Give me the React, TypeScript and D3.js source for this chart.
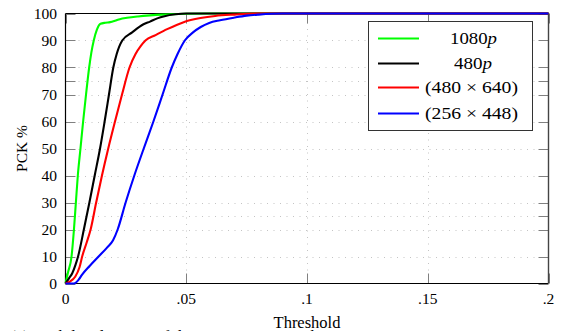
import React from "react";
import * as d3 from "d3";

const W = 561;
const H = 331;

const seriesNames = ["1080p", "480p", "(480 × 640)", "(256 × 448)"];
const seriesColors = ["#00ff00", "#000000", "#ff0000", "#0000ff"];

const green1080: [number, number][] = [
  [0, 0], [0.001, 4], [0.0025, 10], [0.0035, 20], [0.0043, 30], [0.0051, 40], [0.0062, 50],
  [0.0073, 60], [0.0085, 70], [0.0098, 80], [0.0107, 85.5], [0.0117, 90], [0.013, 94],
  [0.0145, 96.2], [0.0165, 96.6], [0.0185, 96.8], [0.0205, 97.3], [0.0225, 97.9],
  [0.0255, 98.4], [0.03, 98.9], [0.035, 99.3], [0.04, 99.6], [0.05, 99.9], [0.06, 100], [0.2, 100],
];
const black480: [number, number][] = [
  [0, 0], [0.0015, 2], [0.0028, 3.8], [0.0041, 6.8], [0.0052, 10], [0.0076, 20], [0.0099, 30],
  [0.0121, 40], [0.0143, 50], [0.0162, 60], [0.018, 70], [0.0198, 80], [0.0212, 85],
  [0.0235, 90], [0.0276, 93], [0.0323, 96], [0.035, 97], [0.038, 98.2], [0.041, 99],
  [0.0455, 99.7], [0.05, 100], [0.2, 100],
];
const red480x640: [number, number][] = [
  [0, 0], [0.002, 0.8], [0.004, 2.5], [0.0058, 6], [0.0069, 10], [0.0087, 15], [0.0104, 20],
  [0.0127, 30], [0.0151, 40], [0.0177, 50], [0.0205, 60], [0.0234, 70], [0.0265, 80],
  [0.029, 85], [0.0312, 88], [0.0331, 90], [0.0373, 92], [0.0421, 94.2], [0.0489, 96.8],
  [0.0559, 98.3], [0.062, 99.1], [0.07, 99.6], [0.08, 100], [0.2, 100],
];
const blue256x448: [number, number][] = [
  [0, 0], [0.0035, 0], [0.0055, 1.5], [0.0068, 3.2], [0.01, 6.5], [0.0137, 10], [0.0172, 13.3],
  [0.0197, 16], [0.0216, 20], [0.0249, 30], [0.0285, 40], [0.0324, 50], [0.0364, 60],
  [0.0402, 70], [0.044, 80], [0.0464, 85], [0.0494, 90], [0.0528, 93], [0.056, 95],
  [0.0595, 96.5], [0.064, 97.5], [0.07, 98.5], [0.075, 99.2], [0.08, 99.6], [0.09, 100], [0.2, 100],
];
const seriesData = [green1080, black480, red480x640, blue256x448];

const xTicks = [0, 0.05, 0.1, 0.15, 0.2];
const xTickLabels = ["0", ".05", ".1", ".15", ".2"];
const yTicks = [0, 10, 20, 25, 30, 40, 50, 60, 70, 75, 80, 90, 100];
const yLabelTicks = [0, 10, 20, 30, 40, 50, 60, 70, 80, 90, 100];

const xLabel = "Threshold";
const yLabel = "PCK %";
const captionLeft = "(a) Each localization of the joints";
const captionRight = "The PCK";

export default function App() {
  const x = d3.scaleLinear().domain([0, 0.2]).range([65.5, 548.5]);
  const y = d3.scaleLinear().domain([0, 100]).range([283.5, 13.5]);
  const line = d3
    .line<[number, number]>()
    .x((d) => x(d[0]))
    .y((d) => y(d[1]))
    .curve(d3.curveMonotoneX);

  const font = '"Liberation Serif", "Times New Roman", Times, serif';
  const [x0, x1] = x.range();
  const [yb, yt] = y.range();
  const tickLen = 10;

  const legendX = 368.5;
  const legendY = 21.5;
  const rowYs = [38.5, 63.5, 87.5, 113.5];
  const labelX = [450, 454, 425, 425];
  const labelLen = [47, 38, 93, 93];

  return (
    <svg
      width={W}
      height={H}
      style={{ position: "absolute", left: 0, top: 0, background: "#fff", fontFamily: font }}
    >
      <rect x={0} y={0} width={W} height={H} fill="#fff" />
      {/* grid */}
      <g stroke="#c4c4c4" strokeWidth={1} strokeDasharray="1 5.5">
        {yTicks
          .filter((t) => t > 0 && t < 100)
          .map((t) => (
            <line key={"gy" + t} x1={x0} x2={x1} y1={Math.round(y(t)) + 0.5} y2={Math.round(y(t)) + 0.5} />
          ))}
        {xTicks
          .filter((t) => t > 0 && t < 0.2)
          .map((t) => (
            <line key={"gx" + t} x1={Math.round(x(t)) + 0.5} x2={Math.round(x(t)) + 0.5} y1={yb} y2={yt} />
          ))}
      </g>
      {/* ticks */}
      <g stroke="#808080" strokeWidth={1}>
        {yTicks.map((t) => {
          const yy = Math.round(y(t)) + 0.5;
          return (
            <g key={"ty" + t}>
              <line x1={x0} x2={x0 + tickLen} y1={yy} y2={yy} />
              <line x1={x1} x2={x1 - tickLen} y1={yy} y2={yy} />
            </g>
          );
        })}
        {xTicks.map((t) => {
          const xx = Math.round(x(t)) + 0.5;
          return (
            <g key={"tx" + t}>
              <line x1={xx} x2={xx} y1={yb} y2={yb - tickLen} />
              <line x1={xx} x2={xx} y1={yt} y2={yt + tickLen} />
            </g>
          );
        })}
      </g>
      {/* frame */}
      <line x1={x0} x2={x1} y1={yt} y2={yt} stroke="#000" strokeWidth={1.2} />
      <line x1={x0} x2={x1} y1={yb} y2={yb} stroke="#000" strokeWidth={1.2} />
      <line x1={x0} x2={x0} y1={yt} y2={yb} stroke="#000" strokeWidth={1.2} />
      <line x1={x1} x2={x1} y1={yt} y2={yb} stroke="#444" strokeWidth={1.4} />
      {/* curves */}
      {seriesData.map((d, i) => (
        <path key={"s" + i} d={line(d) || ""} fill="none" stroke={seriesColors[i]} strokeWidth={2.1} strokeLinejoin="round" />
      ))}
      {/* tick labels */}
      <g fill="#000" style={{ fontSize: "15.5px", fontFamily: font }}>
        {yLabelTicks.map((t) => (
          <text key={"ly" + t} x={57} y={y(t) + 5} textAnchor="end">
            {String(t)}
          </text>
        ))}
        {xTicks.map((t, i) => (
          <text key={"lx" + t} x={x(t)} y={304} textAnchor="middle">
            {xTickLabels[i]}
          </text>
        ))}
      </g>
      <text x={(x0 + x1) / 2} y={327.5} textAnchor="middle" style={{ fontSize: "16.5px", fontFamily: font }}>
        {xLabel}
      </text>
      <text
        transform={`translate(27,${(yb + yt) / 2}) rotate(-90)`}
        textAnchor="middle"
        style={{ fontSize: "15.5px", fontFamily: font }}
      >
        {yLabel}
      </text>
      {/* legend */}
      <rect x={legendX} y={legendY} width={164} height={109} fill="#fff" stroke="#333" strokeWidth={1} />
      {seriesNames.map((name, i) => (
        <g key={"lg" + i}>
          <line x1={378} x2={419} y1={rowYs[i]} y2={rowYs[i]} stroke={seriesColors[i]} strokeWidth={2} />
          <text
            x={labelX[i]}
            y={rowYs[i] + 5.5}
            textLength={labelLen[i]}
            lengthAdjust="spacingAndGlyphs"
            style={{ fontSize: "16.5px", fontFamily: font }}
          >
            {name.endsWith("p") ? (
              <>
                {name.slice(0, -1)}
                <tspan fontStyle="italic">p</tspan>
              </>
            ) : (
              name
            )}
          </text>
        </g>
      ))}
      {/* caption fragment cut off at bottom edge */}
      <text x={10} y={342} style={{ fontSize: "17px", fontFamily: font }}>
        {captionLeft}
      </text>
      <text x={300} y={342} style={{ fontSize: "17px", fontFamily: font }}>
        {captionRight}
      </text>
    </svg>
  );
}
